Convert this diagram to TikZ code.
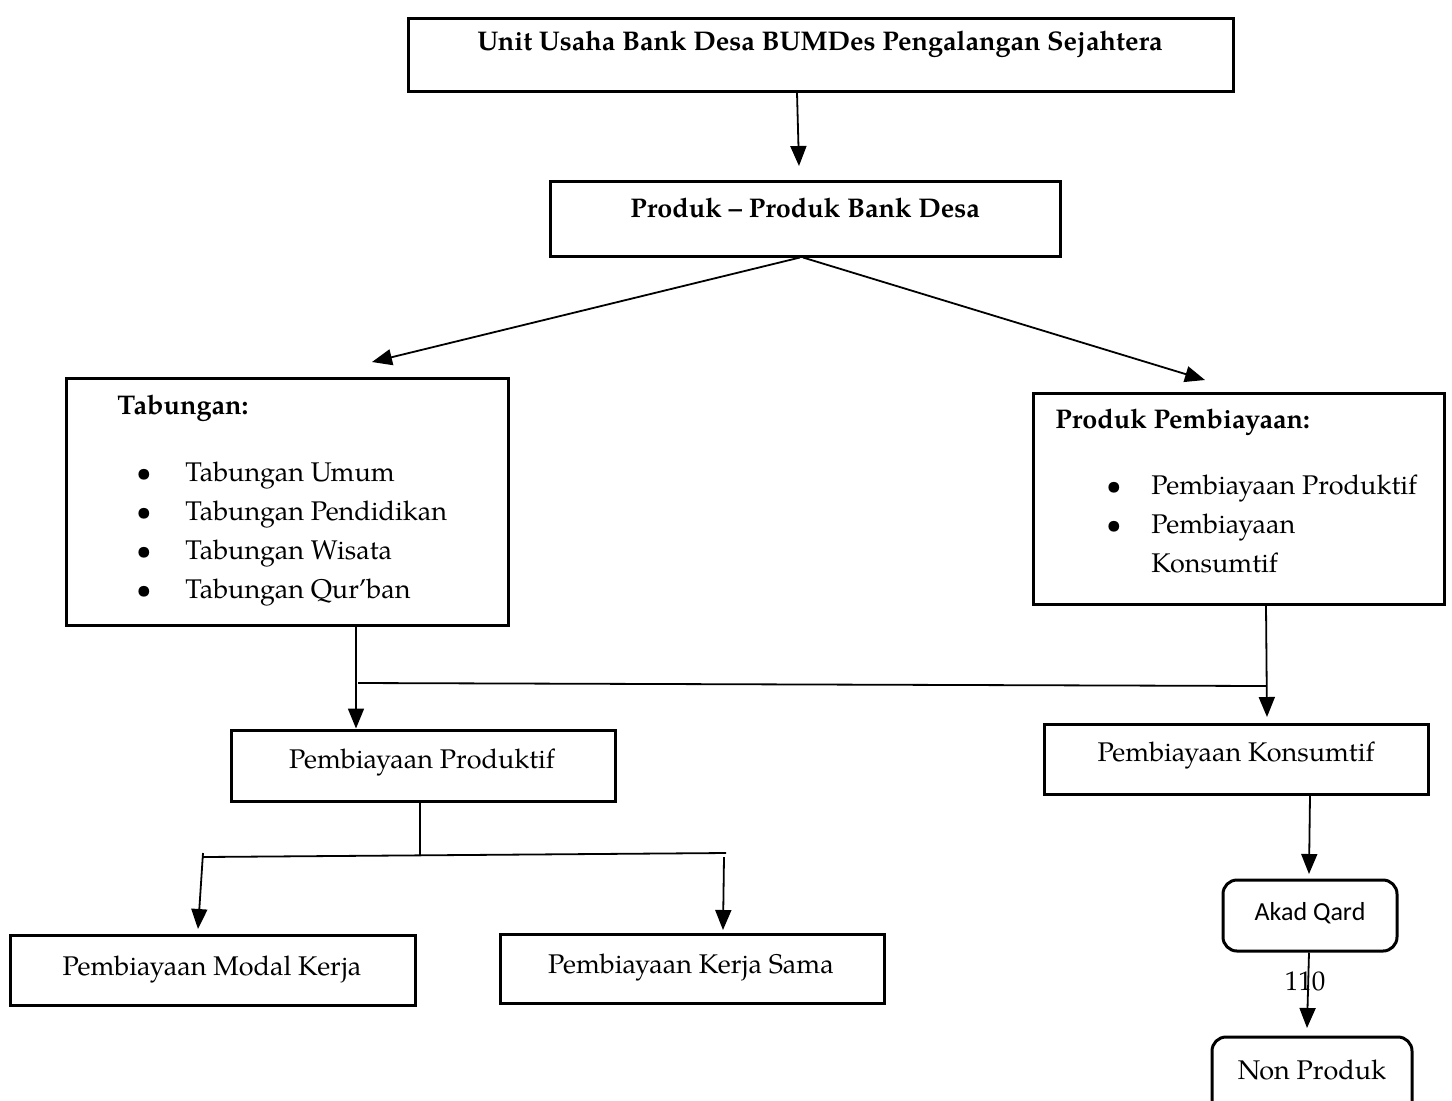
\documentclass[tikz,border=0pt]{standalone}
\usepackage{fontspec}
\setmainfont{TeX Gyre Pagella}
\newfontfamily\calibfont{Carlito}
\usetikzlibrary{arrows.meta,fit}
\begin{document}
\begin{tikzpicture}[x=0.5pt,y=-0.5pt,
  box/.style={draw, line width=1.5pt, inner sep=0pt},
  rbox/.style={box, rounded corners=7pt},
  arr/.style={line width=0.9pt, -{Triangle[width=8pt,length=10pt]}},
  ln/.style={line width=0.9pt},
  txt/.style={anchor=base, inner sep=0pt, font=\fontsize{13.5pt}{19.5pt}\selectfont},
  txtb/.style={txt, font=\fontsize{13.5pt}{19.5pt}\selectfont\bfseries},
  item/.style={txt, anchor=base west},
  bul/.style={}]
\useasboundingbox (0,0) rectangle (1452,1100);
\fill[white] (0,0) rectangle (1452,1100);

% boxes
\node[box, fit={(408,18)(1233,91)}] (top) {};
\node[box, fit={(550,181)(1060,256)}] (prod) {};
\node[box, fit={(66,378)(508,625)}] (tab) {};
\node[box, fit={(1033,393)(1444,604)}] (pemb) {};
\node[box, fit={(231,730)(615,801)}] (pp) {};
\node[box, fit={(1044,724)(1428,794)}] (pk) {};
\node[box, fit={(10,935)(415,1005)}] (pmk) {};
\node[box, fit={(500,934)(884,1003)}] (pks) {};
\node[rbox, fit={(1223,880)(1397,951)}] (aq) {};
\node[rbox, fit={(1212,1037)(1412,1115)}] (np) {};

% texts
\node[txtb] (topt) at (820,50) {Unit Usaha Bank Desa BUMDes Pengalangan Sejahtera};
\node[txtb] (prodt) at (805,217) {Produk – Produk Bank Desa};
\node[txtb, anchor=base west] (tabt) at (117,414) {Tabungan:};
\node[item] (t1) at (136,481) {\makebox[24.5pt][l]{\textbullet}Tabungan Umum};
\node[item] (t2) at (136,520) {\makebox[24.5pt][l]{\textbullet}Tabungan Pendidikan};
\node[item] (t3) at (136,559) {\makebox[24.5pt][l]{\textbullet}Tabungan Wisata};
\node[item] (t4) at (136,598) {\makebox[24.5pt][l]{\textbullet}Tabungan Qur’ban};
\node[txtb, anchor=base west] (pembt) at (1055,428) {Produk Pembiayaan:};
\node[item] (p1) at (1106,494) {\makebox[22.5pt][l]{\textbullet}Pembiayaan Produktif};
\node[item] (p2) at (1106,533) {\makebox[22.5pt][l]{\textbullet}Pembiayaan};
\node[item] (p2b) at (1151,572) {Konsumtif};
\node[txt] (ppt) at (422,768) {Pembiayaan Produktif};
\node[txt] (pkt) at (1236,761) {Pembiayaan Konsumtif};
\node[txt] (pmkt) at (212,975) {Pembiayaan Modal Kerja};
\node[txt] (pkst) at (691,973) {Pembiayaan Kerja Sama};
\node[txt, font=\calibfont\fontsize{13pt}{16pt}\selectfont] (aqt) at (1310,920) {Akad Qard};
\node[txt] (npt) at (1312,1079) {Non Produk};
\node[txt] (num) at (1305,990) {110};

% free ends / junctions
\coordinate (e1) at (799,166);
\coordinate (e2) at (372,362);
\coordinate (e3) at (1205,380);
\coordinate (j1) at (358,683);
\coordinate (j2) at (1266,686);
\coordinate (k0) at (420,855);
\coordinate (k1) at (203,857);
\coordinate (k2) at (726,853);
\coordinate (k1t) at (203,853);
\coordinate (k2t) at (724,857);
\coordinate (e4) at (1309,874);
\coordinate (e5) at (1307,1028);

% connectors
\draw[arr] (797,0 |- top.south) -- (e1);
\draw[arr] (800,0 |- prod.south) -- (e2);
\draw[arr] (803,0 |- prod.south) -- (e3);
\draw[arr] (356,0 |- tab.south) -- (356,0 |- pp.north);
\draw[ln] (j1) -- (j2);
\draw[arr] (1266,0 |- pemb.south) -- (1267,717);
\draw[ln] (420,0 |- pp.south) -- (k0);
\draw[ln] (k1) -- (k2);
\draw[arr] (k1t) -- (198,929);
\draw[arr] (k2t) -- (723,930);
\draw[arr] (1310,0 |- pk.south) -- (e4);
\draw[arr] (1309,0 |- aq.south) -- (e5);
\end{tikzpicture}
\end{document}
